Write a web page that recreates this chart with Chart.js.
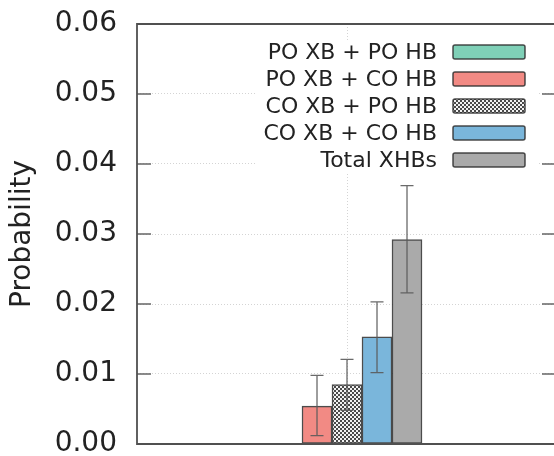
<!DOCTYPE html>
<html>
<head>
<meta charset="utf-8">
<script src="https://cdn.jsdelivr.net/npm/chart.js@4/dist/chart.umd.min.js"></script>
<style>
  html, body { margin: 0; padding: 0; background: #fff; overflow: hidden; }
  #wrap { position: relative; width: 554px; height: 456px; overflow: hidden; }
  canvas { display: block; position: absolute; left: 0; top: 0; }
</style>
</head>
<body>
<div id="wrap"><canvas id="c" width="560" height="470"></canvas></div>
<script>
// Hydrogen/halogen-bond combination probabilities with error ranges
const categories = [''];
const seriesLabels = ['PO XB + PO HB', 'PO XB + CO HB', 'CO XB + PO HB', 'CO XB + CO HB', 'Total XHBs'];
const seriesValues = [0.0001, 0.0054, 0.0085, 0.0153, 0.0292];
const errorLow  = [0.0001, 0.0012, 0.0048, 0.0102, 0.0216];
const errorHigh = [0.0001, 0.0098, 0.0121, 0.0203, 0.0369];
const yTickMin = 0, yTickMax = 0.06, yTickStep = 0.01;

const FONT = "'DejaVu Sans', 'Liberation Sans', sans-serif";

// checkered fill for the CO XB + PO HB bars
function checkerPattern() {
  const p = document.createElement('canvas');
  p.width = 4; p.height = 4;
  const g = p.getContext('2d');
  g.fillStyle = '#f2f2f2'; g.fillRect(0, 0, 4, 4);
  g.fillStyle = '#4a4a4a';
  g.fillRect(0, 0, 2, 2); g.fillRect(2, 2, 2, 2);
  return document.getElementById('c').getContext('2d').createPattern(p, 'repeat');
}

const fills = ['#7fd0b7', '#f28a84', checkerPattern(), '#7ab6db', '#aaaaaa'];

const datasets = seriesLabels.map((label, i) => ({
  label,
  data: [seriesValues[i]],
  backgroundColor: fills[i],
  borderColor: 'rgba(45,45,45,0.85)',
  borderWidth: 1.5,
  borderSkipped: false,
  barThickness: 30
}));

// error bars from errorLow / errorHigh
const errorBars = {
  id: 'errorBars',
  afterDatasetsDraw(chart) {
    const ctx = chart.ctx, y = chart.scales.y;
    ctx.save();
    ctx.strokeStyle = 'rgba(90,90,90,0.9)';
    ctx.lineWidth = 1.3;
    chart.data.datasets.forEach((ds, i) => {
      if (errorHigh[i] === errorLow[i]) return;
      const bar = chart.getDatasetMeta(i).data[0];
      const x = bar.x;
      const yl = y.getPixelForValue(errorLow[i]);
      const yh = y.getPixelForValue(errorHigh[i]);
      ctx.beginPath();
      ctx.moveTo(x, yl); ctx.lineTo(x, yh);
      ctx.moveTo(x - 6.5, yl); ctx.lineTo(x + 6.5, yl);
      ctx.moveTo(x - 6.5, yh); ctx.lineTo(x + 6.5, yh);
      ctx.stroke();
    });
    ctx.restore();
  }
};

// plot frame (left, top, bottom), inward tick marks, and the boxed key
const frameAndKey = {
  id: 'frameAndKey',
  afterDraw(chart) {
    const ctx = chart.ctx, a = chart.chartArea, y = chart.scales.y;
    ctx.save();
    ctx.strokeStyle = '#666';
    ctx.lineWidth = 1.5;
    y.ticks.forEach(t => {
      const py = y.getPixelForValue(t.value);
      ctx.beginPath();
      ctx.moveTo(a.left, py); ctx.lineTo(a.left + 14, py);
      ctx.moveTo(a.right, py); ctx.lineTo(a.right - 15, py);
      ctx.stroke();
    });
    ctx.strokeStyle = '#505050';
    ctx.lineWidth = 1.8;
    ctx.beginPath();
    ctx.moveTo(a.right, a.top); ctx.lineTo(a.left, a.top);
    ctx.lineTo(a.left, a.bottom); ctx.lineTo(a.right, a.bottom);
    ctx.stroke();

    // key
    ctx.fillStyle = '#fff';
    ctx.fillRect(255, 40, 283, 132);
    ctx.font = '22px ' + FONT;
    ctx.textAlign = 'right';
    ctx.textBaseline = 'middle';
    chart.data.datasets.forEach((ds, i) => {
      const cy = 52 + i * 27;
      ctx.fillStyle = '#222';
      ctx.fillText(ds.label, 437, cy + 1);
      ctx.beginPath();
      ctx.roundRect(453, cy - 7, 72, 14, 2);
      ctx.fillStyle = ds.backgroundColor;
      ctx.fill();
      ctx.strokeStyle = 'rgba(45,45,45,0.85)';
      ctx.lineWidth = 1.5;
      ctx.stroke();
    });
    ctx.restore();
  }
};

new Chart(document.getElementById('c'), {
  type: 'bar',
  data: { labels: categories, datasets },
  options: {
    responsive: false,
    devicePixelRatio: 1,
    animation: false,
    layout: { padding: { top: 24, right: 3, bottom: 0, left: 0 } },
    plugins: { legend: { display: false }, tooltip: { enabled: false } },
    scales: {
      x: {
        offset: true,
        grid: { offset: false, color: '#d4d4d4', lineWidth: 1, drawTicks: false },
        border: { display: false, dash: [1, 2] },
        ticks: { display: false },
        afterFit(s) { s.height = 26; }
      },
      y: {
        min: yTickMin,
        max: yTickMax,
        grid: { color: '#d4d4d4', lineWidth: 1, drawTicks: true, tickLength: 20, tickColor: 'rgba(0,0,0,0)' },
        border: { display: false, dash: [1, 2] },
        ticks: {
          stepSize: yTickStep,
          padding: 0,
          color: '#222',
          font: { family: FONT, size: 28 },
          callback: v => v.toFixed(2)
        },
        title: {
          display: true,
          text: 'Probability',
          color: '#222',
          font: { family: FONT, size: 28 },
          padding: { top: 6, bottom: 0 }
        },
        afterFit(s) { s.width = 137; }
      }
    }
  },
  plugins: [errorBars, frameAndKey]
});
</script>
</body>
</html>
